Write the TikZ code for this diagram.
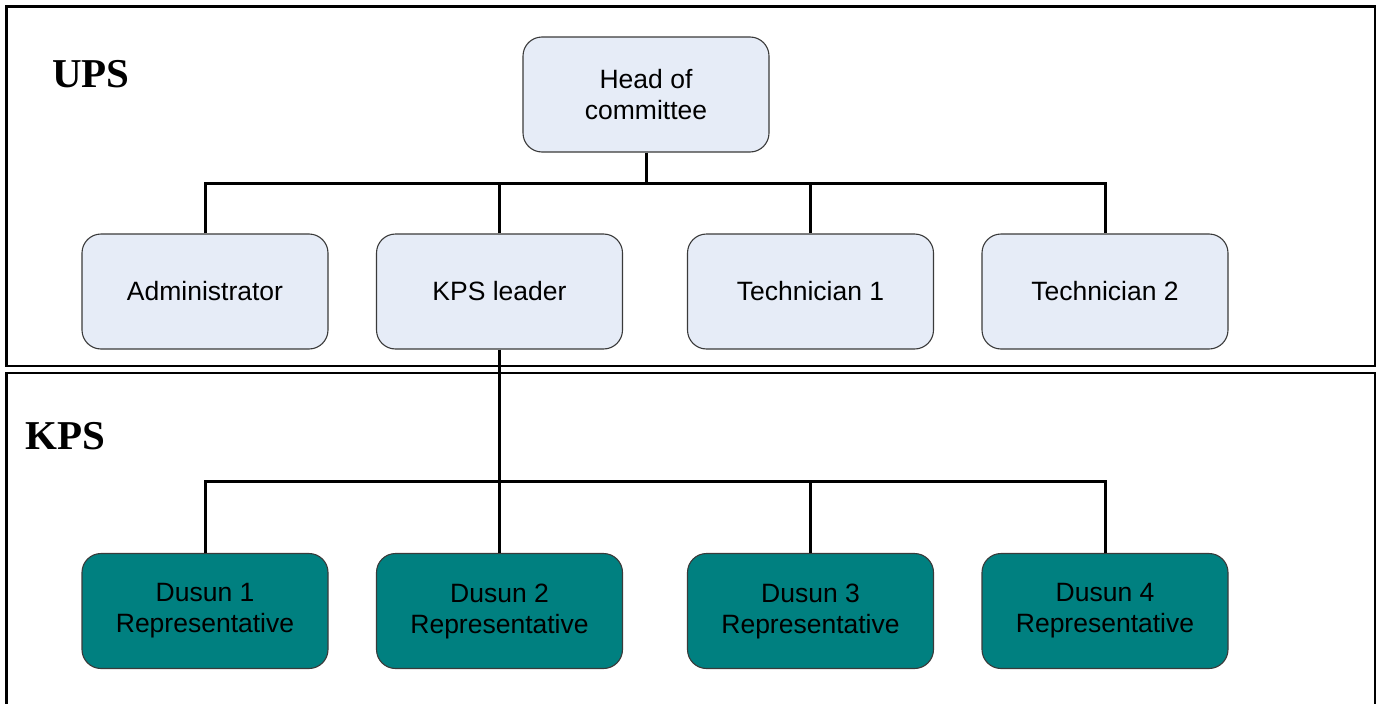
\documentclass[tikz,border=0pt]{standalone}
\usepackage{fontspec}
\setmainfont{Liberation Serif}
\newfontfamily\arialfont{Liberation Sans}
\definecolor{paleblue}{HTML}{E6ECF7}
\definecolor{tealfill}{HTML}{008080}
\definecolor{boxline}{HTML}{3A3A3A}
\tikzset{
  unit/.style={draw=boxline, line width=1.1pt, rounded corners=19pt,
    minimum width=246pt, minimum height=115pt, inner sep=0pt,
    align=center, font=\arialfont\fontsize{26.5}{31}\selectfont},
  staff/.style={unit, fill=paleblue},
  rep/.style={unit, fill=tealfill},
  panel/.style={draw=black, line width=2.4pt},
  conn/.style={draw=black, line width=3pt, line join=miter},
  tier/.style={anchor=base west, inner sep=0pt,
    font=\bfseries\fontsize{41}{45}\selectfont}
}
\begin{document}
\begin{tikzpicture}[x=1pt, y=-1pt]
\useasboundingbox (0,0) rectangle (1382,704);

% the two tiers
\draw[panel] (6.5,6.5) rectangle (1375,366);
\draw[panel] (6.5,720) -- (6.5,373) -- (1375,373) -- (1375,720);
\node[tier] (upslabel) at (52,87) {UPS};
\node[tier] (kpslabel) at (25,449) {KPS};

% bus lines
\coordinate (busA) at (646,183);
\coordinate (busB) at (500,481);

% UPS staff
\node[staff] (head)  at (646,94.5)  {Head of\\committee};
\node[staff] (adm)   at (205,291.5) {Administrator};
\node[staff] (kps)   at (499.5,291.5) {KPS leader};
\node[staff] (tech1) at (810.5,291.5) {Technician 1};
\node[staff] (tech2) at (1105,291.5) {Technician 2};

% KPS representatives
\node[rep] (d1) at (205,611)   {Dusun 1\\Representative};
\node[rep] (d2) at (499.5,611) {Dusun 2\\Representative};
\node[rep] (d3) at (810.5,611) {Dusun 3\\Representative};
\node[rep] (d4) at (1105,611)  {Dusun 4\\Representative};

% reporting lines, upper tier
\draw[conn] (head.south) -- (head.south |- busA);
\draw[conn] (adm.north) -- (adm.north |- busA) -- (tech2.north |- busA) -- (tech2.north);
\draw[conn] (kps.north) -- (kps.north |- busA);
\draw[conn] (tech1.north) -- (tech1.north |- busA);

% reporting lines, lower tier
\draw[conn] (kps.south) -- (kps.south |- busB);
\draw[conn] (d1.north) -- (d1.north |- busB) -- (d4.north |- busB) -- (d4.north);
\draw[conn] (d2.north) -- (d2.north |- busB);
\draw[conn] (d3.north) -- (d3.north |- busB);
\end{tikzpicture}
\end{document}
